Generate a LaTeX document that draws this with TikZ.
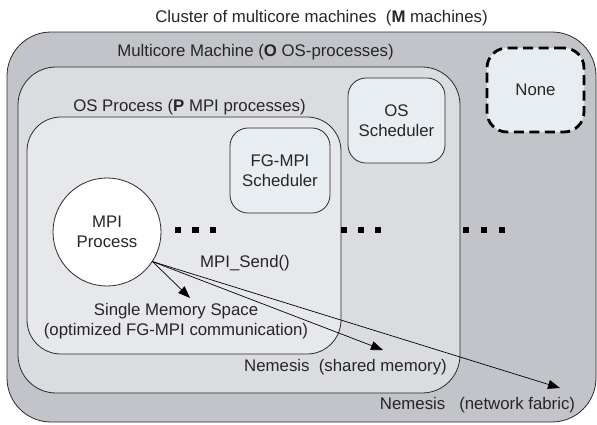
\documentclass[tikz,border=0pt]{standalone}
\usepackage{fontspec}
\setmainfont{Liberation Sans}
\usetikzlibrary{arrows.meta}
\definecolor{clusterfill}{HTML}{C2C4C9}
\definecolor{machinefill}{HTML}{DADCE0}
\definecolor{procfill}{HTML}{E7E8EC}
\definecolor{schedfill}{HTML}{E8EDF2}
\definecolor{edge}{HTML}{2A2A2A}
\tikzset{
  region/.style={draw=edge, line width=0.8pt, rectangle, inner sep=0pt},
  sched/.style={draw=edge, line width=0.8pt, rectangle, rounded corners=18pt,
    fill=schedfill, align=center, inner sep=0pt},
  lbl/.style={font=\fontsize{16.8}{20}\selectfont, text=black!85, inner sep=0pt, align=center},
  dot/.style={fill=black, rectangle, minimum size=6.5pt, inner sep=0pt},
  msg/.style={draw=black, line width=0.7pt, -{Triangle[length=12pt,width=9pt]}}
}
\begin{document}
\begin{tikzpicture}[x=1pt,y=-1pt]
\useasboundingbox (0,0) rectangle (597,424);

% nested containers
\node[region, fill=clusterfill, rounded corners=44pt, minimum width=589pt, minimum height=390pt] (cluster) at (301.5,227) {};
\node[region, fill=machinefill, rounded corners=38pt, minimum width=442pt, minimum height=326pt] (machine) at (239,230) {};
\node[region, fill=procfill, rounded corners=34pt, minimum width=314pt, minimum height=237pt] (osproc) at (184,235.5) {};

% schedulers and the placeholder box
\node[sched, minimum width=97pt, minimum height=85pt, lbl] (ossched) at (396.5,120.5) {OS\\Scheduler};
\node[sched, minimum width=100pt, minimum height=85pt, lbl] (fgsched) at (280,170.5) {FG-MPI\\Scheduler};
\node[draw=black, line width=2.8pt, dash pattern=on 10pt off 5.5pt, rounded corners=20pt, fill=schedfill,
      minimum width=97pt, minimum height=84pt, lbl] (none) at (535.5,90) {None};

% MPI process
\node[circle, draw=edge, line width=0.8pt, fill=white, minimum size=108pt, lbl] (mpi) at (107,232) {MPI\\Process};

% container titles
\node[lbl] (tcluster) at (321.5,18) {Cluster of multicore machines\ \ (\textbf{M} machines)};
\node[lbl] (tmachine) at (255.5,52) {Multicore Machine (\textbf{O} OS-processes)};
\node[lbl] (tosproc) at (189.5,107) {OS Process (\textbf{P} MPI processes)};

% ellipsis marks
\foreach \x/\n in {178/a1,195.5/a2,213/a3,344/b1,361/b2,378/b3,466/c1,484/c2,502/c3}
  \node[dot] (dot\n) at (\x,230) {};

% message paths
\coordinate (tipmem) at (190,298);
\coordinate (tipshm) at (383,350);
\coordinate (tipnet) at (560,388);
\draw[msg] (mpi.-33) -- (tipmem);
\draw[msg] (mpi.-33) -- (tipshm);
\draw[msg] (mpi.-33) -- (tipnet);

\node[lbl] (send) at (245,263) {MPI\_Send()};
\node[lbl] (single) at (176,321) {Single Memory Space\\(optimized FG-MPI communication)};
\node[lbl] (shm) at (345.5,367) {Nemesis\ \ (shared memory)};
\node[lbl] (net) at (477.5,405) {Nemesis\ \ \ (network fabric)};
\end{tikzpicture}
\end{document}
